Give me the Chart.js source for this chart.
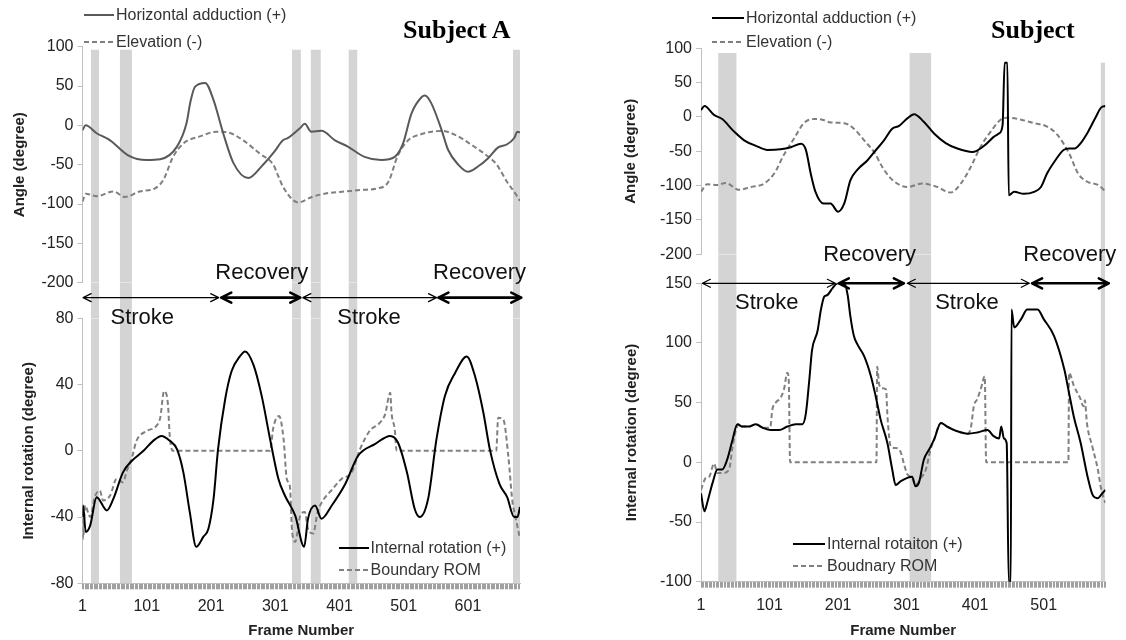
<!DOCTYPE html>
<html><head><meta charset="utf-8">
<script src="https://cdn.jsdelivr.net/npm/chart.js@4.4.0/dist/chart.umd.min.js"></script>
<style>
body{margin:0;background:#fff;width:1126px;height:640px;overflow:hidden;position:relative;font-family:"Liberation Sans",Arial,sans-serif;}
canvas{position:absolute;top:0;}
#cA{left:0;} #cB{left:560px;}
.title{position:absolute;font-family:"Liberation Serif","Times New Roman",serif;font-weight:bold;font-size:26px;line-height:26px;color:#000;white-space:nowrap;}
.leg{position:absolute;font-size:16px;line-height:20px;height:20px;color:#333;white-space:nowrap;display:flex;align-items:center;}
.leg svg{margin-right:2px;}
</style></head>
<body>
<canvas id="cA" width="560" height="640"></canvas>
<canvas id="cB" width="566" height="640"></canvas>
<div class="title" style="left:403px;top:17px;">Subject A</div>
<div class="title" style="left:991px;top:17px;">Subject</div>
<div id="legends"></div>
<script>
// ---------- Subject A ----------
const A_adductionFrames = [1,6,23,44,72,101,122,148,163,169,176,192,205,220,236,259,282,300,313,321,339,347,357,373,394,414,440,466,487,500,513,529,534,544,560,570,586,601,617,632,648,662,673,678,682];
const A_adductionDeg = [-6,0,-10,-19,-38,-44,-43,-27,3,30,49,54,32,-10,-48,-67,-50,-33,-19,-16,-4,2,-8,-7,-19,-27,-40,-44,-40,-23,15,36,38,28,-6,-31,-50,-59,-52,-42,-28,-24,-16,-8,-9];
const A_elevationFrames = [1,6,23,49,67,90,114,127,142,158,184,210,228,251,277,298,306,313,337,358,384,410,436,461,477,492,508,529,560,581,607,633,645,662,675,682];
const A_elevationDeg = [-97,-87,-90,-84,-91,-84,-80,-69,-40,-23,-14,-8,-9,-19,-36,-50,-65,-78,-98,-91,-86,-84,-82,-80,-72,-38,-19,-11,-7,-12,-25,-40,-49,-72,-87,-96];
const A_rotationFrames = [1,2,6,13,23,39,49,64,78,96,111,124,137,148,158,168,178,189,197,205,212,223,233,246,254,267,280,293,306,316,332,346,352,363,373,389,410,430,456,480,492,506,518,526,539,552,565,581,599,612,625,635,650,662,673,678,682];
const A_rotationDeg = [-40,-33,-49,-45,-28,-36,-29,-13,-6,0,6,9,6,1,-13,-37,-58,-52,-47,-29,1,31,48,57,60,52,33,7,-17,-27,-39,-58,-41,-33,-41,-33,-20,-3,4,9,5,-13,-35,-40,-29,7,33,47,57,45,23,1,-20,-28,-40,-40,-34];
const A_romFrames = [1,2,5,13,20,28,33,44,54,64,70,78,85,101,116,122,128,134,137,142,293,298,307,314,319,324,327,332,340,347,352,360,367,377,386,404,420,433,448,464,472,480,482,487,490,645,648,656,664,670,675,682];
const A_romDeg = [-36,-53,-33,-40,-28,-24,-30,-27,-17,-19,-12,-4,6,12,15,20,36,28,8,0,0,14,21,7,-17,-22,-47,-55,-39,-37,-47,-50,-37,-29,-25,-17,-13,1,12,17,22,35,23,13,0,0,20,19,-4,-30,-40,-53];
const A_bandStart = [14,59,327,356,415,671];
const A_bandEnd = [27,78,341,372,429,682];
const A_bandTop = [96,96,96,96,96,96];
const A_phaseName = ['Stroke','Recovery','Stroke','Recovery'];
const A_phaseStart = [2,217,344,555];
const A_phaseEnd = [213,340,552,684];
const A_phaseLabelAt = [94,280,447,619];
const A_topTicks = [-200,-150,-100,-50,0,50,100];
const A_botTicks = [-80,-40,0,40,80];
const A_xLabels = [1,101,201,301,401,501,601];
const A_lastFrame = 682;

// ---------- Subject (right) ----------
const B_adductionFrames = [1,6,20,32,49,64,81,98,117,132,147,154,161,168,180,190,201,210,219,229,244,253,268,280,290,302,312,326,341,358,375,397,414,428,436,441,444,448,450,458,472,487,497,506,518,530,538,546,555,566,577,585,591];
const B_adductionDeg = [10,16,3,-3,-21,-34,-42,-48,-47,-44,-39,-48,-82,-109,-126,-126,-138,-126,-92,-77,-63,-52,-34,-17,-13,-2,4,-7,-24,-38,-46,-51,-42,-29,-24,-12,79,79,-114,-109,-112,-109,-102,-82,-63,-48,-46,-46,-38,-21,0,14,16];
const B_elevationFrames = [1,10,25,37,56,74,93,108,122,137,151,166,178,190,210,224,239,254,268,283,302,324,346,365,380,395,409,424,438,448,468,487,506,521,538,551,564,580,591];
const B_elevationDeg = [-109,-98,-99,-96,-106,-102,-97,-82,-55,-31,-9,-3,-4,-8,-9,-17,-34,-52,-77,-94,-102,-97,-102,-110,-97,-72,-43,-21,-4,-1,-4,-9,-14,-26,-53,-82,-94,-99,-108];
const B_rotationFrames = [1,6,10,18,25,32,39,47,54,61,71,81,91,103,115,127,139,149,154,159,163,171,176,181,185,193,200,210,215,219,224,229,239,249,256,263,273,280,285,292,302,309,314,319,326,334,341,351,360,375,390,404,419,428,436,439,443,447,450,453,454,458,468,477,492,501,516,531,538,545,555,565,573,580,585,591];
const B_rotationDeg = [-26,-41,-34,-17,-6,-6,2,19,32,30,30,32,29,27,27,30,32,32,41,69,94,110,128,139,140,146,150,150,140,122,106,99,89,72,55,36,16,-6,-19,-16,-13,-12,-20,-17,2,11,19,33,30,26,24,25,27,22,20,30,20,16,-100,-100,128,113,120,128,128,120,106,78,58,38,16,-12,-28,-30,-27,-23];
const B_romFrames = [1,8,13,20,25,32,42,47,52,56,61,71,81,91,102,105,110,117,122,127,129,131,257,258,261,266,271,273,278,285,292,297,302,309,314,322,329,336,341,351,360,375,390,395,399,404,409,415,417,537,538,545,554,559,561,564,572,580,585,591];
const B_romDeg = [-23,-13,-12,-1,-9,-9,-6,13,27,32,30,30,32,29,29,44,50,54,61,75,69,0,0,80,65,62,61,39,13,12,9,-1,-10,-13,-19,-13,-6,11,19,33,30,26,24,30,47,53,61,72,0,0,75,64,54,47,52,33,13,-6,-23,-34];
const B_bandStart = [26,305,584];
const B_bandEnd = [53,337,591];
const B_bandTop = [93,93,79];
const B_phaseName = ['Stroke','Recovery','Stroke','Recovery'];
const B_phaseStart = [3,202,302,484];
const B_phaseEnd = [197,297,480,596];
const B_phaseLabelAt = [97,247,389,539];
const B_topTicks = [-200,-150,-100,-50,0,50,100];
const B_botTicks = [-100,-50,0,50,100,150];
const B_xLabels = [1,101,201,301,401,501];
const B_lastFrame = 591;

const FONT = "'Liberation Sans', Arial, sans-serif";
Chart.defaults.font.family = FONT;
Chart.defaults.color = '#222';
const AXIS_GREY = '#bfbfbf';
const BAND_COLOR = '#d4d4d4';

function series(frames, vals){ return frames.map((f,i)=>({x:f, y:vals[i]})); }
function bandData(starts, ends, level){
  const d = [];
  starts.forEach((s,i)=>{
    const top = Array.isArray(level) ? level[i] : level;
    d.push({x:s, y:top}, {x:ends[i], y:top});
    if (i < starts.length-1) d.push({x:(ends[i]+starts[i+1])/2, y:null});
  });
  return d;
}

const phasePlugin = {
  id: 'phaseArrows',
  afterDatasetsDraw(chart, args, o){
    const ctx = chart.ctx, xs = chart.scales.x, yg = chart.scales.yGap;
    const y = yg.getPixelForValue(o.level);
    ctx.save();
    o.names.forEach((name,i)=>{
      const x0 = xs.getPixelForValue(o.starts[i]);
      const x1 = xs.getPixelForValue(o.ends[i]);
      const bold = name === 'Recovery';
      const lw = bold ? 2.6 : 1.2, hl = bold ? 10 : 8, hw = bold ? 5 : 4;
      ctx.strokeStyle = '#000'; ctx.lineWidth = lw; ctx.lineCap = 'round'; ctx.lineJoin = 'round';
      ctx.beginPath();
      ctx.moveTo(x0,y); ctx.lineTo(x1,y);
      ctx.moveTo(x0+hl,y-hw); ctx.lineTo(x0,y); ctx.lineTo(x0+hl,y+hw);
      ctx.moveTo(x1-hl,y-hw); ctx.lineTo(x1,y); ctx.lineTo(x1-hl,y+hw);
      ctx.stroke();
      ctx.font = '22px ' + FONT;
      ctx.fillStyle = '#111'; ctx.textAlign = 'center'; ctx.textBaseline = 'middle';
      ctx.fillText(name, xs.getPixelForValue(o.labelAt[i]), y + (bold ? o.upOffset : o.downOffset));
    });
    ctx.restore();
  }
};

function makeChart(id, c){
  const line = (label, data, axis, color, dash) => ({type:'line', label, data, yAxisID:axis, borderColor:color, backgroundColor:color, borderWidth:2, borderDash:dash||[], pointRadius:0, cubicInterpolationMode:'monotone', fill:false, order:0});
  const band = (data, axis, base) => ({type:'line', label:'band', data, yAxisID:axis, borderWidth:0, borderColor:'rgba(0,0,0,0)', backgroundColor:BAND_COLOR, pointRadius:0, tension:0, fill:{value:base}, order:10, spanGaps:false});
  const yAxis = (w, ticks, weight, sw, title, pad) => ({
    type:'linear', position:'left', stack:'panel', weight, stackWeight:sw,
    min:ticks[0], max:ticks[ticks.length-1],
    afterBuildTicks:(s)=>{ s.ticks = ticks.map(v=>({value:v})); },
    ticks:{autoSkip:false, padding:4, font:{size:16}, color:'#222'},
    grid:{drawOnChartArea:false, drawTicks:true, tickLength:5, color:AXIS_GREY},
    border:{display:true, color:AXIS_GREY},
    title:{display:true, text:title, font:{size:15, weight:'bold'}, color:'#222', padding:{top:pad, bottom:0}},
    afterFit:(s)=>{ s.width = w; }
  });
  return new Chart(document.getElementById(id), {
    type:'line',
    data:{ datasets:[
      line(c.topNames[0], series(c.haF, c.haV), 'yTop', c.haColor, []),
      line(c.topNames[1], series(c.elF, c.elV), 'yTop', '#7f7f7f', [5,3]),
      line(c.botNames[0], series(c.irF, c.irV), 'yBot', '#000000', []),
      line(c.botNames[1], series(c.romF, c.romV), 'yBot', '#808080', [5,3]),
      band(bandData(c.bandS, c.bandE, c.bandTop), 'yTop', c.topTicks[0]),
      band(bandData(c.bandS, c.bandE, 1), 'yGap', 0),
      band(bandData(c.bandS, c.bandE, c.botTicks[c.botTicks.length-1]), 'yBot', c.botTicks[0])
    ]},
    options:{
      responsive:false, animation:false, devicePixelRatio:1,
      layout:{padding:{left:0, right:c.padRight, top:c.padTop, bottom:0}},
      plugins:{
        legend:{display:false}, tooltip:{enabled:false},
        phaseArrows:{names:c.phName, starts:c.phS, ends:c.phE, labelAt:c.phL, level:c.arrowLevel, upOffset:c.upOffset, downOffset:20}
      },
      scales:{
        x:{
          type:'linear', position:'bottom', min:1, max:c.last,
          afterBuildTicks:(s)=>{ const t=[]; for(let f=1; f<=c.last; f+=2) t.push({value:f}); s.ticks=t; },
          ticks:{autoSkip:false, maxRotation:0, padding:8, font:{size:16}, color:'#222',
                 callback:(v)=> (c.xLabels.includes(v) ? String(v) : '')},
          grid:{drawOnChartArea:false, drawTicks:true, tickLength:6, color:'#a0a0a0', lineWidth:1},
          border:{display:true, color:AXIS_GREY},
          title:{display:true, text:'Frame Number', font:{size:15, weight:'bold'}, color:'#222', padding:{top:0,bottom:0}},
          afterFit:(s)=>{ s.height = c.xAxisH; }
        },
        yTop: yAxis(c.axisW, c.topTicks, 3, c.wTop, 'Angle (degree)', c.titlePadTop),
        yGap: {type:'linear', position:'left', stack:'panel', weight:2, stackWeight:c.wGap, min:0, max:1,
          ticks:{display:false}, grid:{display:false}, border:{display:false}, afterFit:(s)=>{ s.width = c.axisW; }},
        yBot: yAxis(c.axisW, c.botTicks, 1, c.wBot, 'Internal rotation (degree)', c.titlePadBot)
      }
    },
    plugins:[phasePlugin]
  });
}

makeChart('cA', {
  haF:A_adductionFrames, haV:A_adductionDeg, elF:A_elevationFrames, elV:A_elevationDeg,
  irF:A_rotationFrames, irV:A_rotationDeg, romF:A_romFrames, romV:A_romDeg,
  haColor:'#595959', topNames:['Horizontal adduction (+)','Elevation (-)'], botNames:['Internal rotation (+)','Boundary ROM'],
  bandS:A_bandStart, bandE:A_bandEnd, bandTop:A_bandTop,
  phName:A_phaseName, phS:A_phaseStart, phE:A_phaseEnd, phL:A_phaseLabelAt,
  topTicks:A_topTicks, botTicks:A_botTicks, xLabels:A_xLabels, last:A_lastFrame,
  padRight:40, padTop:46.7, xAxisH:56.7, axisW:82.5,
  wTop:236, wGap:35.6, wBot:265, arrowLevel:0.58, upOffset:-25,
  titlePadTop:10.6, titlePadBot:19.6
});
makeChart('cB', {
  haF:B_adductionFrames, haV:B_adductionDeg, elF:B_elevationFrames, elV:B_elevationDeg,
  irF:B_rotationFrames, irV:B_rotationDeg, romF:B_romFrames, romV:B_romDeg,
  haColor:'#000000', topNames:['Horizontal adduction (+)','Elevation (-)'], botNames:['Internal rotaiton (+)','Boudnary ROM'],
  bandS:B_bandStart, bandE:B_bandEnd, bandTop:B_bandTop,
  phName:B_phaseName, phS:B_phaseStart, phE:B_phaseEnd, phL:B_phaseLabelAt,
  topTicks:B_topTicks, botTicks:B_botTicks, xLabels:B_xLabels, last:B_lastFrame,
  padRight:20.6, padTop:48.3, xAxisH:58.3, axisW:141,
  wTop:206, wGap:29, wBot:298.4, arrowLevel:0, upOffset:-28,
  titlePadTop:61.4, titlePadBot:63
});

// HTML legends
const legendItems = [
  {x:84, y:15, w:30, color:'#595959', dash:false, text:'Horizontal adduction (+)'},
  {x:84, y:41.7, w:30, color:'#7f7f7f', dash:true, text:'Elevation (-)'},
  {x:338.6, y:548.3, w:30, color:'#000', dash:false, text:'Internal rotation (+)'},
  {x:338.6, y:570, w:30, color:'#808080', dash:true, text:'Boundary ROM'},
  {x:712, y:18.3, w:32, color:'#000', dash:false, text:'Horizontal adduction (+)'},
  {x:712, y:41.7, w:32, color:'#7f7f7f', dash:true, text:'Elevation (-)'},
  {x:793, y:544, w:32, color:'#000', dash:false, text:'Internal rotaiton (+)'},
  {x:793, y:566, w:32, color:'#808080', dash:true, text:'Boudnary ROM'}
];
const host = document.getElementById('legends');
legendItems.forEach(it=>{
  const d = document.createElement('div');
  d.className = 'leg';
  d.style.left = it.x + 'px';
  d.style.top = (it.y - 10) + 'px';
  d.innerHTML = '<svg width="'+it.w+'" height="4"><line x1="0" y1="2" x2="'+it.w+'" y2="2" stroke="'+it.color+'" stroke-width="2"'+(it.dash?' stroke-dasharray="5,3"':'')+'/></svg><span></span>';
  d.querySelector('span').textContent = it.text;
  host.appendChild(d);
});
</script>
</body></html>
